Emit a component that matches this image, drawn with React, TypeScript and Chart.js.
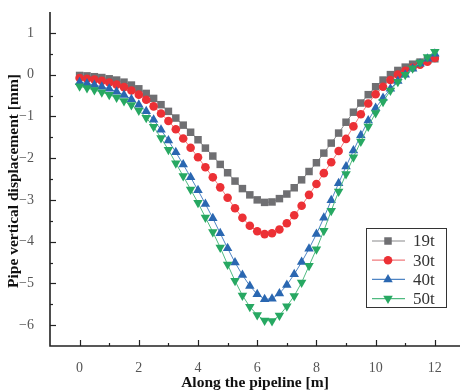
import React, { useEffect, useRef } from 'react';
import { Chart, registerables } from 'chart.js';

Chart.register(...registerables);

// Position along the pipeline [m]
const positions = [
  0, 0.25, 0.5, 0.75, 1, 1.25, 1.5, 1.75, 2, 2.25, 2.5, 2.75, 3, 3.25, 3.5, 3.75,
  4, 4.25, 4.5, 4.75, 5, 5.25, 5.5, 5.75, 6, 6.25, 6.5, 6.75, 7, 7.25, 7.5, 7.75,
  8, 8.25, 8.5, 8.75, 9, 9.25, 9.5, 9.75, 10, 10.25, 10.5, 10.75, 11, 11.25, 11.5, 11.75, 12,
];

// Pipe vertical displacement [mm]
const disp19t = [
  -0.02, -0.03, -0.05, -0.07, -0.1, -0.13, -0.18, -0.25, -0.34, -0.45, -0.57, -0.72, -0.88, -1.04, -1.21, -1.38,
  -1.56, -1.76, -1.95, -2.15, -2.35, -2.55, -2.73, -2.88, -3.0, -3.06, -3.05, -2.97, -2.86, -2.71, -2.52, -2.32,
  -2.11, -1.88, -1.64, -1.4, -1.14, -0.9, -0.68, -0.48, -0.29, -0.13, 0.0, 0.1, 0.18, 0.25, 0.3, 0.35, 0.38,
];
const disp30t = [
  -0.08, -0.1, -0.12, -0.15, -0.19, -0.24, -0.3, -0.38, -0.48, -0.6, -0.76, -0.93, -1.11, -1.31, -1.53, -1.75,
  -1.98, -2.22, -2.46, -2.7, -2.95, -3.2, -3.43, -3.62, -3.75, -3.82, -3.8, -3.71, -3.56, -3.37, -3.14, -2.88,
  -2.62, -2.36, -2.1, -1.83, -1.54, -1.24, -0.95, -0.69, -0.47, -0.29, -0.13, 0.0, 0.09, 0.17, 0.24, 0.31, 0.4,
];
const disp40t = [
  -0.18, -0.21, -0.25, -0.29, -0.34, -0.41, -0.49, -0.59, -0.72, -0.88, -1.08, -1.32, -1.58, -1.86, -2.15, -2.46,
  -2.77, -3.1, -3.44, -3.8, -4.16, -4.5, -4.8, -5.06, -5.26, -5.38, -5.37, -5.24, -5.04, -4.78, -4.49, -4.17,
  -3.82, -3.43, -3.01, -2.6, -2.2, -1.82, -1.45, -1.1, -0.8, -0.56, -0.34, -0.15, 0.0, 0.14, 0.26, 0.38, 0.5,
];
const disp50t = [
  -0.28, -0.32, -0.37, -0.42, -0.48, -0.55, -0.63, -0.73, -0.86, -1.03, -1.25, -1.52, -1.8, -2.12, -2.43, -2.75,
  -3.07, -3.42, -3.77, -4.14, -4.55, -4.94, -5.29, -5.56, -5.76, -5.89, -5.9, -5.77, -5.55, -5.3, -4.98, -4.58,
  -4.18, -3.74, -3.26, -2.8, -2.38, -1.98, -1.6, -1.24, -0.92, -0.65, -0.38, -0.17, 0.0, 0.15, 0.29, 0.42, 0.55,
];

const seriesLabels = ['19t', '30t', '40t', '50t'];
const seriesColors = ['#6f6f72', '#ec3035', '#2a67b1', '#27a862'];
const seriesLineColors = ['#8a8a8c', '#f07a7c', '#4f85c4', '#4fba80'];
const seriesStyles = ['rect', 'circle', 'triangle', 'triangle'];
const seriesRotation = [0, 0, 0, 180];
const seriesRadius = [5.3, 4.3, 5.5, 5.5];

const xMajorTicks = [0, 2, 4, 6, 8, 10, 12];
const xMinorTicks = [1, 3, 5, 7, 9, 11];
const yMajorTicks = [-6, -5, -4, -3, -2, -1, 0, 1];
const yMinorTicks = [-5.5, -4.5, -3.5, -2.5, -1.5, -0.5, 0.5];

const xTitle = 'Along the pipeline [m]';
const yTitle = 'Pipe vertical displacement [mm]';

const SERIF = "'Liberation Serif', 'DejaVu Serif', serif";

const fmt = (v: number) => String(v).replace('-', '\u2212');

function drawMarker(ctx: CanvasRenderingContext2D, style: string, rotation: number, r: number, x: number, y: number) {
  ctx.beginPath();
  if (style === 'rect') {
    const s = Math.SQRT1_2 * r;
    ctx.rect(x - s, y - s, 2 * s, 2 * s);
  } else if (style === 'circle') {
    ctx.arc(x, y, r, 0, Math.PI * 2);
  } else {
    let rad = (rotation * Math.PI) / 180;
    ctx.moveTo(x + Math.sin(rad) * r, y - Math.cos(rad) * r);
    rad += (2 * Math.PI) / 3;
    ctx.lineTo(x + Math.sin(rad) * r, y - Math.cos(rad) * r);
    rad += (2 * Math.PI) / 3;
    ctx.lineTo(x + Math.sin(rad) * r, y - Math.cos(rad) * r);
    ctx.closePath();
  }
  ctx.fill();
}

const axesPlugin = {
  id: 'inwardTicks',
  afterDraw(chart: any) {
    const { ctx, chartArea, scales } = chart;
    const xs = scales.x;
    const ys = scales.y;
    ctx.save();
    ctx.strokeStyle = '#222';
    ctx.lineWidth = 1.2;
    const drawX = (vals: number[], len: number) => {
      vals.forEach((v) => {
        const px = Math.round(xs.getPixelForValue(v)) + 0.5;
        ctx.beginPath();
        ctx.moveTo(px, chartArea.bottom);
        ctx.lineTo(px, chartArea.bottom - len);
        ctx.stroke();
      });
    };
    const drawY = (vals: number[], len: number) => {
      vals.forEach((v) => {
        const py = Math.round(ys.getPixelForValue(v)) + 0.5;
        ctx.beginPath();
        ctx.moveTo(chartArea.left, py);
        ctx.lineTo(chartArea.left + len, py);
        ctx.stroke();
      });
    };
    drawX(xMajorTicks, 6);
    drawX(xMinorTicks, 3);
    drawY(yMajorTicks, 6);
    drawY(yMinorTicks, 3);
    ctx.lineWidth = 1.6;
    ctx.beginPath();
    ctx.moveTo(chartArea.left, chartArea.top);
    ctx.lineTo(chartArea.left, chartArea.bottom);
    ctx.lineTo(chartArea.right, chartArea.bottom);
    ctx.stroke();

    // axis titles
    ctx.fillStyle = '#111';
    ctx.font = `bold 15.5px ${SERIF}`;
    ctx.textAlign = 'center';
    ctx.textBaseline = 'middle';
    ctx.fillText(xTitle, (chartArea.left + chartArea.right) / 2, 383);
    ctx.translate(14, (chartArea.top + chartArea.bottom) / 2 + 2);
    ctx.rotate(-Math.PI / 2);
    ctx.fillText(yTitle, 0, 0);
    ctx.restore();
  },
};

const legendPlugin = {
  id: 'boxLegend',
  afterDraw(chart: any) {
    const { ctx, chartArea } = chart;
    const right = chartArea.right - 14;
    const bottom = chartArea.bottom - 39;
    const w = 80;
    const h = 79;
    const left = right - w;
    const top = bottom - h;
    ctx.save();
    ctx.fillStyle = '#ffffff';
    ctx.fillRect(left, top, w, h);
    ctx.strokeStyle = '#333';
    ctx.lineWidth = 1;
    ctx.strokeRect(Math.round(left) + 0.5, Math.round(top) + 0.5, w, h);
    seriesLabels.forEach((label, i) => {
      const cy = top + 13 + i * 19.2;
      ctx.strokeStyle = seriesLineColors[i];
      ctx.lineWidth = 1.2;
      ctx.beginPath();
      ctx.moveTo(left + 6, cy);
      ctx.lineTo(left + 39, cy);
      ctx.stroke();
      ctx.fillStyle = seriesColors[i];
      drawMarker(ctx, seriesStyles[i], seriesRotation[i], seriesRadius[i], left + 22, cy);
      ctx.fillStyle = '#333';
      ctx.font = `17px ${SERIF}`;
      ctx.textBaseline = 'middle';
      ctx.textAlign = 'left';
      ctx.fillText(label, left + 47, cy + 1);
    });
    ctx.restore();
  },
};

const zeroPadding = (scale: any) => {
  scale.paddingTop = 0;
  scale.paddingBottom = 0;
  scale.paddingLeft = 0;
  scale.paddingRight = 0;
};

export default function App() {
  const canvasRef = useRef<HTMLCanvasElement | null>(null);

  useEffect(() => {
    const canvas = canvasRef.current;
    if (!canvas) return;
    const allSeries = [disp19t, disp30t, disp40t, disp50t];
    const datasets = allSeries.map((vals, i) => ({
      label: seriesLabels[i],
      data: positions.map((p, j) => ({ x: p, y: vals[j] })),
      borderColor: seriesLineColors[i],
      backgroundColor: seriesColors[i],
      borderWidth: 1,
      pointStyle: seriesStyles[i],
      rotation: seriesRotation[i],
      pointRadius: seriesRadius[i],
      pointBorderWidth: 0,
      pointBackgroundColor: seriesColors[i],
      tension: 0,
      order: 4 - i,
    }));

    const chart = new Chart(canvas, {
      type: 'line',
      data: { datasets },
      options: {
        animation: false,
        responsive: false,
        devicePixelRatio: 1,
        layout: { autoPadding: false, padding: { top: 12, right: 0, left: 0, bottom: 0 } },
        plugins: {
          legend: { display: false },
          tooltip: { enabled: false },
        },
        scales: {
          x: {
            type: 'linear',
            min: -1,
            max: 12.85,
            grid: { display: false },
            border: { display: false },
            afterBuildTicks: (scale: any) => {
              scale.ticks = xMajorTicks.map((v) => ({ value: v }));
            },
            ticks: {
              autoSkip: false,
              maxRotation: 0,
              padding: 6,
              color: '#555',
              font: { family: SERIF, size: 14 },
              callback: (v: any) => fmt(Number(v)),
            },
            afterFit: (scale: any) => {
              scale.height = 46;
              zeroPadding(scale);
            },
          },
          y: {
            type: 'linear',
            min: -6.5,
            max: 1.5,
            grid: { display: false },
            border: { display: false },
            afterBuildTicks: (scale: any) => {
              scale.ticks = yMajorTicks.map((v) => ({ value: v }));
            },
            ticks: {
              autoSkip: false,
              padding: 8,
              color: '#555',
              font: { family: SERIF, size: 14 },
              callback: (v: any) => fmt(Number(v)),
            },
            afterFit: (scale: any) => {
              scale.width = 50;
              zeroPadding(scale);
            },
          },
        },
      },
      plugins: [axesPlugin, legendPlugin],
    });

    return () => {
      chart.destroy();
    };
  }, []);

  return (
    <div style={{ position: 'fixed', left: 0, top: 0, width: 460, height: 392, background: '#fff' }}>
      <canvas ref={canvasRef} width={460} height={392} style={{ width: 460, height: 392, display: 'block' }} />
    </div>
  );
}
